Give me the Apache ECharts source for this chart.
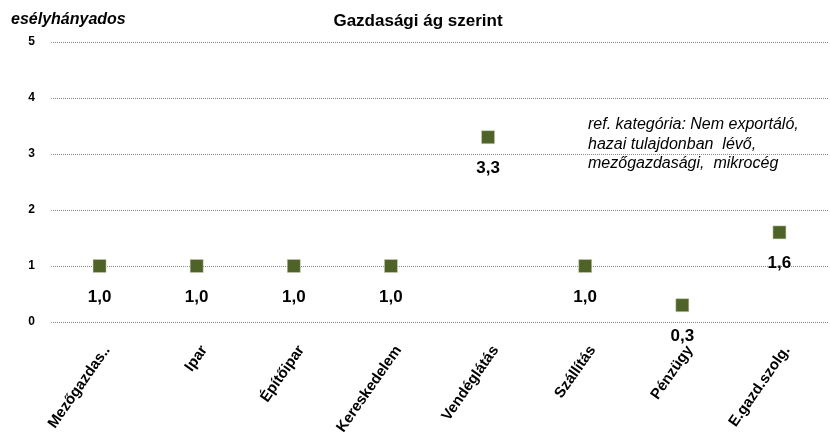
<!DOCTYPE html>
<html>
<head>
<meta charset="utf-8">
<script src="https://cdn.jsdelivr.net/npm/echarts@6/dist/echarts.min.js"></script>
<style>
  html, body { margin: 0; padding: 0; background: #fff; }
  #chart { width: 830px; height: 437px; }
</style>
</head>
<body>
<div id="chart"></div>
<script>
// Sectors and their odds ratios
const categories = ['Mezőgazdas..', 'Ipar', 'Építőipar', 'Kereskedelem', 'Vendéglátás', 'Szállítás', 'Pénzügy', 'E.gazd.szolg.'];
const oddsRatios = [1.0, 1.0, 1.0, 1.0, 3.3, 1.0, 0.3, 1.6];
const yTicks = [0, 1, 2, 3, 4, 5];
const noteLines = ['ref. kategória: Nem exportáló,', 'hazai tulajdonban  lévő,', 'mezőgazdasági,  mikrocég'];

const font = '"Liberation Sans", Arial, sans-serif';
const chart = echarts.init(document.getElementById('chart'));

chart.setOption({
  animation: false,
  backgroundColor: '#ffffff',
  textStyle: { fontFamily: font },
  graphic: [
    {
      type: 'text', x: 418, y: 21,
      style: { text: 'Gazdasági ág szerint', font: 'bold 17px ' + font, fill: '#000',
               textAlign: 'center', textVerticalAlign: 'middle' }
    },
    {
      type: 'text', x: 11, y: 20,
      style: { text: 'esélyhányados', font: 'italic bold 16px ' + font, fill: '#000',
               textVerticalAlign: 'middle' }
    },
    {
      type: 'text', x: 588, y: 115,
      style: { text: noteLines.join('\n'), font: 'italic 16px ' + font, lineHeight: 19.5, fill: '#000' }
    }
  ],
  grid: { left: 51, right: 2, top: 42, bottom: 115, containLabel: false, outerBoundsMode: 'none' },
  xAxis: {
    type: 'category',
    data: categories,
    boundaryGap: true,
    axisLine: { show: false },
    axisTick: { show: false },
    axisLabel: {
      rotate: 55,
      interval: 0,
      margin: 36,
      padding: [0, -13, 0, 0],
      fontFamily: font,
      fontSize: 15,
      fontWeight: 'bold',
      color: '#000'
    }
  },
  yAxis: {
    type: 'value',
    min: yTicks[0],
    max: yTicks[yTicks.length - 1],
    interval: 1,
    axisLine: { show: false },
    axisTick: { show: false },
    axisLabel: {
      margin: 16,
      fontFamily: font,
      fontSize: 12,
      fontWeight: 'bold',
      color: '#000'
    },
    splitLine: { lineStyle: { color: '#8a8a8a', type: [1, 1], width: 1 } }
  },
  series: [{
    type: 'scatter',
    data: oddsRatios,
    symbol: 'rect',
    symbolSize: 13,
    itemStyle: { color: '#4f6228', opacity: 1, borderColor: '#c9d3b0', borderWidth: 0.5 },
    label: {
      show: true,
      position: 'bottom',
      distance: 16,
      formatter: p => p.value.toFixed(1).replace('.', ','),
      fontFamily: font,
      fontSize: 17,
      fontWeight: 'bold',
      color: '#000'
    }
  }]
});
</script>
</body>
</html>
